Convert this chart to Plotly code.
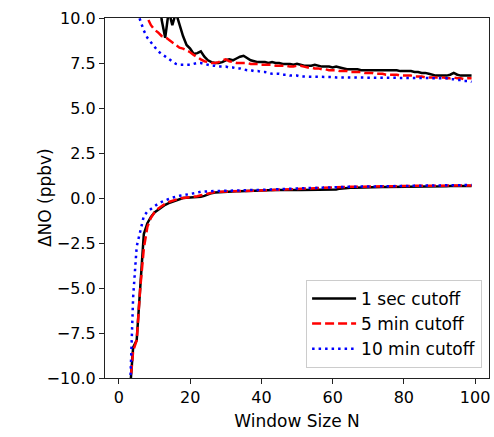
import plotly.graph_objects as go

# Window sizes N = 1 .. 99
window_n = list(range(1, 100))

# Upper branch (positive offset) for each cutoff
one_sec_upper = [
    40.0, 30.0, 22.0, 18.0, 16.0, 14.5, 13.5, 13.0, 12.5, 12.5,
    12.0, 9.9, 8.9, 10.4, 9.6, 10.3, 9.6, 9.0, 8.5, 8.3,
    8.0, 8.05, 8.15, 7.85, 7.65, 7.55, 7.5, 7.5, 7.55, 7.65,
    7.7, 7.65, 7.75, 7.85, 7.9, 7.75, 7.65, 7.6, 7.55, 7.55,
    7.55, 7.5, 7.55, 7.5, 7.5, 7.45, 7.45, 7.45, 7.4, 7.45,
    7.4, 7.35, 7.35, 7.35, 7.4, 7.35, 7.3, 7.3, 7.3, 7.25,
    7.3, 7.25, 7.2, 7.15, 7.15, 7.15, 7.15, 7.1, 7.1, 7.1,
    7.1, 7.1, 7.1, 7.1, 7.1, 7.1, 7.1, 7.1, 7.05, 7.05,
    7.05, 7.05, 7.0, 7.0, 6.95, 6.95, 6.9, 6.85, 6.8, 6.8,
    6.8, 6.8, 6.85, 6.95, 6.85, 6.8, 6.8, 6.8, 6.8,
]
five_min_upper = [
    30.0, 22.0, 17.0, 14.5, 12.5, 11.5, 10.8, 10.0, 9.6, 9.35,
    9.2, 9.0, 8.95, 8.8, 8.6, 8.45, 8.35, 8.3, 8.2, 8.1,
    7.95, 7.8, 7.7, 7.6, 7.55, 7.5, 7.5, 7.55, 7.65, 7.7,
    7.6, 7.55, 7.5, 7.5, 7.5, 7.5, 7.45, 7.45, 7.45, 7.4,
    7.4, 7.4, 7.4, 7.35, 7.35, 7.35, 7.35, 7.3, 7.3, 7.35,
    7.35, 7.3, 7.25, 7.25, 7.2, 7.2, 7.15, 7.15, 7.1, 7.1,
    7.1, 7.05, 7.05, 7.05, 7.0, 7.0, 7.0, 7.0, 6.95, 6.95,
    6.95, 6.9, 6.9, 6.9, 6.85, 6.85, 6.85, 6.85, 6.8, 6.8,
    6.8, 6.8, 6.75, 6.75, 6.75, 6.7, 6.7, 6.7, 6.7, 6.7,
    6.7, 6.65, 6.65, 6.7, 6.65, 6.65, 6.6, 6.65, 6.65,
]
ten_min_upper = [
    20.0, 15.0, 12.0, 11.0, 10.4, 9.8, 9.3, 8.9, 8.65, 8.4,
    8.15, 8.0, 7.85, 7.7, 7.55, 7.45, 7.4, 7.4, 7.4, 7.4,
    7.45, 7.5, 7.5, 7.45, 7.4, 7.35, 7.35, 7.3, 7.3, 7.3,
    7.25, 7.25, 7.2, 7.2, 7.15, 7.1, 7.1, 7.05, 7.05, 7.0,
    7.0, 6.95, 6.9, 6.9, 6.9, 6.85, 6.85, 6.8, 6.8, 6.8,
    6.75, 6.75, 6.75, 6.75, 6.75, 6.75, 6.72, 6.72, 6.72, 6.72,
    6.7, 6.7, 6.7, 6.7, 6.7, 6.7, 6.7, 6.7, 6.7, 6.7,
    6.68, 6.68, 6.68, 6.68, 6.68, 6.68, 6.68, 6.68, 6.68, 6.68,
    6.66, 6.66, 6.66, 6.66, 6.66, 6.66, 6.66, 6.65, 6.65, 6.65,
    6.65, 6.65, 6.6, 6.6, 6.55, 6.55, 6.5, 6.5, 6.45,
]

# Lower branch (negative offset) for each cutoff
one_sec_lower = [
    -35.0, -20.0, -11.0, -8.3, -7.9, -4.8, -2.0, -1.4, -1.05, -0.8,
    -0.65, -0.5, -0.38, -0.28, -0.2, -0.12, -0.05, 0.0, 0.02, 0.03,
    0.04, 0.05, 0.07, 0.12, 0.2, 0.27, 0.3, 0.32, 0.34, 0.35,
    0.36, 0.37, 0.38, 0.38, 0.39, 0.4, 0.4, 0.41, 0.42, 0.42,
    0.43, 0.43, 0.44, 0.44, 0.44, 0.45, 0.45, 0.45, 0.45, 0.45,
    0.45, 0.45, 0.45, 0.45, 0.46, 0.46, 0.46, 0.46, 0.47, 0.47,
    0.47, 0.52, 0.55, 0.56, 0.57, 0.57, 0.58, 0.58, 0.59, 0.59,
    0.6, 0.6, 0.6, 0.61, 0.61, 0.61, 0.62, 0.62, 0.62, 0.63,
    0.63, 0.63, 0.63, 0.64, 0.64, 0.64, 0.64, 0.65, 0.65, 0.65,
    0.65, 0.65, 0.66, 0.66, 0.66, 0.66, 0.66, 0.66, 0.66,
]
five_min_lower = [
    -30.0, -18.0, -10.8, -8.5, -7.9, -5.0, -2.8, -1.6, -1.1, -0.8,
    -0.6, -0.45, -0.32, -0.22, -0.15, -0.08, -0.03, 0.0, 0.02, 0.04,
    0.06, 0.1, 0.15, 0.2, 0.25, 0.3, 0.33, 0.35, 0.36, 0.37,
    0.37, 0.38, 0.38, 0.39, 0.39, 0.4, 0.4, 0.41, 0.41, 0.42,
    0.43, 0.44, 0.45, 0.46, 0.47, 0.48, 0.49, 0.5, 0.51, 0.52,
    0.53, 0.54, 0.55, 0.55, 0.56, 0.57, 0.58, 0.58, 0.59, 0.6,
    0.6, 0.61, 0.61, 0.62, 0.62, 0.62, 0.63, 0.63, 0.63, 0.64,
    0.64, 0.64, 0.65, 0.65, 0.65, 0.66, 0.66, 0.66, 0.66, 0.67,
    0.67, 0.67, 0.67, 0.68, 0.68, 0.68, 0.68, 0.68, 0.69, 0.69,
    0.69, 0.69, 0.69, 0.7, 0.7, 0.7, 0.7, 0.7, 0.7,
]
ten_min_lower = [
    -25.0, -16.0, -11.5, -5.5, -2.7, -1.9, -1.0, -0.75, -0.6, -0.45,
    -0.32, -0.22, -0.12, -0.05, 0.02, 0.08, 0.12, 0.15, 0.18, 0.2,
    0.25, 0.3, 0.35, 0.37, 0.38, 0.38, 0.39, 0.39, 0.4, 0.4,
    0.41, 0.41, 0.42, 0.42, 0.43, 0.43, 0.44, 0.44, 0.45, 0.45,
    0.46, 0.46, 0.47, 0.48, 0.49, 0.5, 0.5, 0.51, 0.52, 0.53,
    0.54, 0.54, 0.55, 0.56, 0.56, 0.57, 0.58, 0.58, 0.59, 0.6,
    0.6, 0.61, 0.61, 0.62, 0.62, 0.63, 0.63, 0.63, 0.64, 0.64,
    0.64, 0.65, 0.65, 0.65, 0.66, 0.66, 0.66, 0.67, 0.67, 0.67,
    0.67, 0.68, 0.68, 0.68, 0.68, 0.69, 0.69, 0.69, 0.69, 0.7,
    0.7, 0.7, 0.7, 0.71, 0.71, 0.71, 0.71, 0.72, 0.72,
]

series_names = ["1 sec cutoff", "5 min cutoff", "10 min cutoff"]
series_upper = [one_sec_upper, five_min_upper, ten_min_upper]
series_lower = [one_sec_lower, five_min_lower, ten_min_lower]
series_colors = ["#000000", "#ff0000", "#0000ff"]
series_dash = ["solid", "9px,4px", "2.5px,4px"]

FONT = "DejaVu Sans"

fig = go.Figure()
for name, upper, lower, color, dash in zip(
    series_names, series_upper, series_lower, series_colors, series_dash
):
    # both branches in one trace, separated by a gap
    fig.add_trace(
        go.Scatter(
            x=window_n + [None] + window_n,
            y=upper + [None] + lower,
            mode="lines",
            name=name,
            connectgaps=False,
            line=dict(color=color, width=2.5, dash=dash),
        )
    )

axis_common = dict(
    showline=True,
    mirror=True,
    linecolor="#222222",
    linewidth=1.3,
    ticks="outside",
    ticklen=5,
    tickwidth=1.3,
    tickcolor="#222222",
    showgrid=False,
    zeroline=False,
    tickfont=dict(family=FONT, size=16, color="#000000"),
)

fig.update_layout(
    width=494,
    height=437,
    margin=dict(l=105, r=5, t=18, b=59),
    paper_bgcolor="white",
    plot_bgcolor="white",
    font=dict(family=FONT, size=16, color="#000000"),
    xaxis=dict(
        range=[-3.9, 103.9],
        tickvals=[0, 20, 40, 60, 80, 100],
        title=dict(text="Window Size N", font=dict(family=FONT, size=17), standoff=8),
        **axis_common,
    ),
    yaxis=dict(
        range=[-10, 10],
        tickvals=[-10, -7.5, -5, -2.5, 0, 2.5, 5, 7.5, 10],
        tickformat=".1f",
        **axis_common,
    ),
    legend=dict(
        x=0.982,
        y=0.028,
        xanchor="right",
        yanchor="bottom",
        bgcolor="white",
        bordercolor="#cccccc",
        borderwidth=1,
        itemwidth=44,
        font=dict(family=FONT, size=17, color="#000000"),
    ),
    showlegend=True,
)

# y-axis title, set a little closer to the tick labels
fig.add_annotation(
    text="ΔNO (ppbv)",
    textangle=-90,
    xref="paper",
    yref="paper",
    x=-0.156,
    y=0.5,
    xanchor="center",
    yanchor="middle",
    showarrow=False,
    font=dict(family=FONT, size=17, color="#000000"),
)

fig.write_html("out.html")
